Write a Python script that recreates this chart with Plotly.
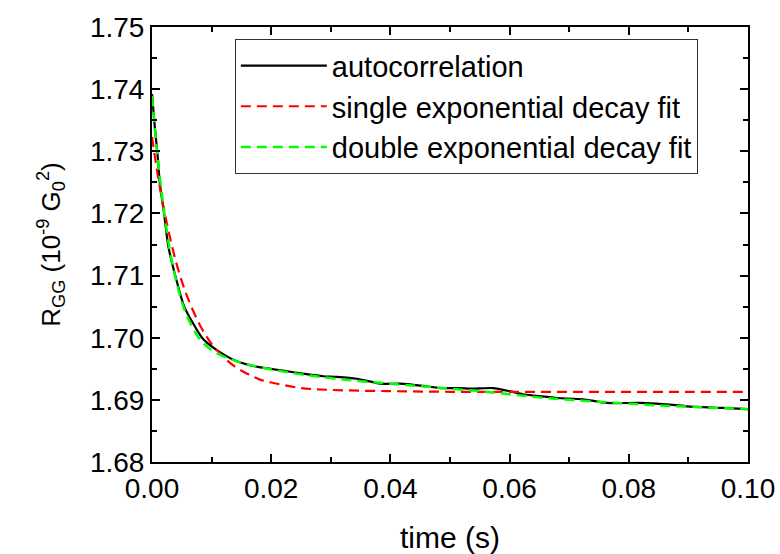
import plotly.graph_objects as go

# autocorrelation
t_auto = [0, 0.0005, 0.001, 0.0013, 0.002, 0.0027, 0.0039, 0.0054, 0.0072, 0.0084, 0.010,
          0.0122, 0.014, 0.0164, 0.019, 0.022, 0.0255, 0.0287, 0.031, 0.0344, 0.0383,
          0.0416, 0.045, 0.0483, 0.0515, 0.0539, 0.0572, 0.060, 0.0622, 0.065, 0.068,
          0.0723, 0.0763, 0.0819, 0.0874, 0.0903, 0.0958, 0.100]
r_auto = [1.7392, 1.7336, 1.7287, 1.7249, 1.7202, 1.7149, 1.7100, 1.7050, 1.7018, 1.7000, 1.6986,
          1.6972, 1.6963, 1.6956, 1.6951, 1.6947, 1.6942, 1.6938, 1.6937, 1.6934, 1.6926,
          1.6926, 1.6923, 1.6919, 1.6919, 1.6918, 1.6919, 1.6914, 1.6909, 1.6906, 1.6903,
          1.6901, 1.6895, 1.6895, 1.6892, 1.6889, 1.6887, 1.6885]

# single exponential decay fit
t_single = [0, 0.001, 0.002, 0.003, 0.004, 0.005, 0.006, 0.008, 0.010, 0.012, 0.014, 0.016,
            0.018, 0.020, 0.025, 0.030, 0.040, 0.050, 0.060, 0.070, 0.080, 0.090, 0.100]
r_single = [1.7323, 1.7260, 1.7207, 1.7162, 1.7123, 1.7091, 1.7064, 1.7021, 1.6990, 1.6969,
            1.6953, 1.6942, 1.6933, 1.6928, 1.6919, 1.6916, 1.6914, 1.6913, 1.6913, 1.6913,
            1.6913, 1.6913, 1.6913]

# double exponential decay fit
t_double = [0, 0.001, 0.002, 0.003, 0.004, 0.005, 0.006, 0.008, 0.010, 0.012, 0.014, 0.016,
            0.018, 0.020, 0.025, 0.030, 0.035, 0.040, 0.045, 0.050, 0.055, 0.060, 0.065,
            0.070, 0.075, 0.080, 0.085, 0.090, 0.095, 0.100]
r_double = [1.7389, 1.7285, 1.7205, 1.7140, 1.7094, 1.7058, 1.7032, 1.6998, 1.6980, 1.6970,
            1.6963, 1.6957, 1.6953, 1.6949, 1.6941, 1.6935, 1.6930, 1.6926, 1.6922, 1.6918,
            1.6914, 1.6909, 1.6904, 1.6900, 1.6897, 1.6894, 1.6891, 1.6889, 1.6887, 1.6885]

FONT = "Liberation Sans, Arial, sans-serif"

fig = go.Figure()
fig.add_trace(go.Scatter(x=t_auto, y=r_auto, mode="lines", name="autocorrelation",
                         line=dict(color="black", width=2.2, shape="spline", smoothing=0.6)))
fig.add_trace(go.Scatter(x=t_single, y=r_single, mode="lines", name="single exponential decay fit",
                         line=dict(color="#ff0000", width=2.2, dash="10px,6px", shape="spline")))
fig.add_trace(go.Scatter(x=t_double, y=r_double, mode="lines", name="double exponential decay fit",
                         line=dict(color="#00ff00", width=2.5, dash="10px,6px", shape="spline")))

axis_common = dict(showline=True, linecolor="black", linewidth=2, mirror="allticks",
                   ticks="inside", ticklen=8, tickwidth=1.5, tickcolor="black",
                   showgrid=False, zeroline=False, automargin=False,
                   tickfont=dict(family=FONT, size=28, color="black"))

fig.update_xaxes(range=[0, 0.10], tick0=0, dtick=0.02, tickformat=".2f",
                 minor=dict(ticks="inside", dtick=0.01, ticklen=5, tickcolor="black", tickwidth=1.5),
                 title=dict(text="time (s)", font=dict(family=FONT, size=30, color="black"), standoff=24),
                 **axis_common)
fig.update_yaxes(range=[1.68, 1.75], tick0=1.68, dtick=0.01, tickformat=".2f",
                 minor=dict(ticks="inside", dtick=0.005, ticklen=5, tickcolor="black", tickwidth=1.5),
                 title=dict(text="R<sub>GG</sub> (10<sup>-9</sup> G<sub>0</sub><sup>2</sup>)",
                            font=dict(family=FONT, size=26, color="black"), standoff=22),
                 **axis_common)

fig.update_layout(
    width=780, height=554,
    margin=dict(l=152, r=32, t=27, b=92),
    paper_bgcolor="white", plot_bgcolor="white",
    font=dict(family=FONT, color="black"),
    legend=dict(x=0.139, y=0.972, xanchor="left", yanchor="top",
                bgcolor="white", bordercolor="#333333", borderwidth=1,
                font=dict(family=FONT, size=29, color="black"),
                itemwidth=86, tracegroupgap=0),
    showlegend=True,
)

fig.write_html("out.html")
